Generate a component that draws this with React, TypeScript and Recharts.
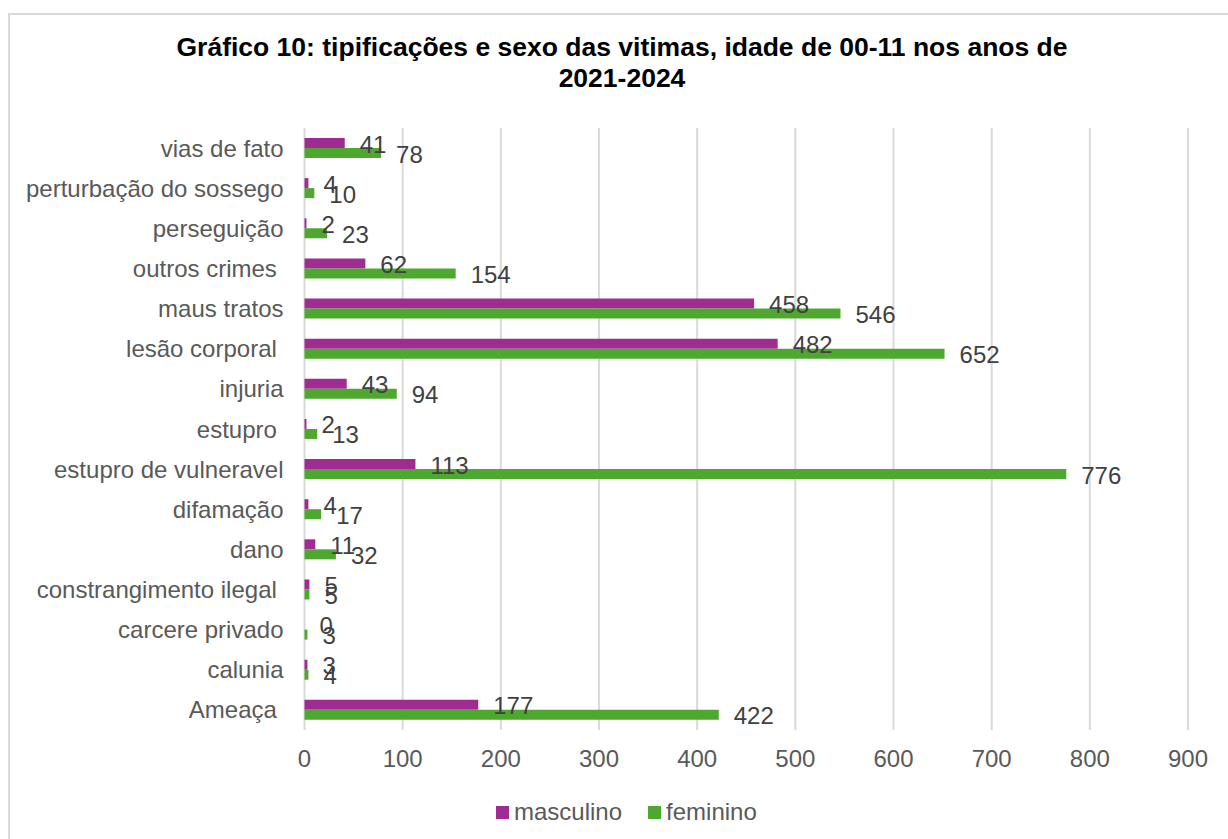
import { BarChart, Bar, XAxis, YAxis, CartesianGrid, LabelList } from 'recharts';

const categories = [
  'vias de fato',
  'perturbação do sossego',
  'perseguição',
  'outros crimes ',
  'maus tratos',
  'lesão corporal ',
  'injuria',
  'estupro ',
  'estupro de vulneravel',
  'difamação',
  'dano',
  'constrangimento ilegal ',
  'carcere privado',
  'calunia',
  'Ameaça ',
];
const masculino = [41, 4, 2, 62, 458, 482, 43, 2, 113, 4, 11, 5, 0, 3, 177];
const feminino = [78, 10, 23, 154, 546, 652, 94, 13, 776, 17, 32, 5, 3, 4, 422];
const xTicks = [0, 100, 200, 300, 400, 500, 600, 700, 800, 900];

const series = [
  { key: 'masculino', name: 'masculino', color: '#A02B93' },
  { key: 'feminino', name: 'feminino', color: '#4EA72E' },
];

const data = categories.map((name, i) => ({
  name,
  masculino: masculino[i],
  feminino: feminino[i],
}));

const FONT = '"Liberation Sans", Arial, sans-serif';
const FS = 24;

function CategoryTick(props: any) {
  const { x, y, payload } = props;
  return (
    <text
      x={x}
      y={y}
      textAnchor="end"
      dominantBaseline="central"
      fill="#595959"
      fontSize={FS}
      fontFamily={FONT}
      style={{ whiteSpace: 'pre' }}
    >
      {payload.value}
    </text>
  );
}

// value label to the right of each bar, drawn even when the bar has zero length
function ValueLabel(props: any) {
  const { x, y, width, height, value } = props;
  return (
    <text
      x={Number(x) + Number(width) + 15}
      y={Number(y) + Number(height) / 2 + 1}
      dominantBaseline="central"
      fill="#404040"
      fontSize={FS}
      fontFamily={FONT}
    >
      {value}
    </text>
  );
}

export default function App() {
  return (
    <div
      style={{
        position: 'absolute',
        left: 0,
        top: 0,
        width: 1228,
        height: 839,
        overflow: 'hidden',
        background: '#fff',
        fontFamily: FONT,
      }}
    >
      <div
        style={{
          position: 'absolute',
          left: 8,
          top: 13,
          width: 1260,
          height: 900,
          border: '2px solid #D9D9D9',
        }}
      />
      <div
        style={{
          position: 'absolute',
          left: 0,
          top: 32,
          width: 1244,
          textAlign: 'center',
          fontWeight: 'bold',
          fontSize: 26.5,
          lineHeight: '31px',
          color: '#000',
        }}
      >
        Gráfico 10: tipificações e sexo das vitimas, idade de 00-11 nos anos de
        <br />
        2021-2024
      </div>
      <div style={{ position: 'absolute', left: 0, top: 0 }}>
        <BarChart
          width={1228}
          height={839}
          data={data}
          layout="vertical"
          margin={{ top: 128, right: 40, bottom: 69, left: 0 }}
          barGap={0}
          barSize={10}
        >
          <CartesianGrid horizontal={false} stroke="#D9D9D9" strokeWidth={2} />
          <XAxis
            type="number"
            domain={[0, 900]}
            ticks={xTicks}
            height={40}
            axisLine={false}
            tickLine={false}
            tickSize={0}
            tickMargin={20}
            tick={{ fill: '#595959', fontSize: FS, fontFamily: FONT }}
            interval={0}
          />
          <YAxis
            type="category"
            dataKey="name"
            width={304.5}
            axisLine={false}
            tickLine={false}
            tickSize={0}
            tickMargin={21}
            interval={0}
            tick={<CategoryTick />}
          />
          {series.map((s) => (
            <Bar
              key={s.key}
              dataKey={s.key}
              name={s.name}
              fill={s.color}
              minPointSize={0.01}
              isAnimationActive={false}
            >
              <LabelList dataKey={s.key} content={<ValueLabel />} />
            </Bar>
          ))}
        </BarChart>
      </div>
      <div
        style={{
          position: 'absolute',
          left: 496,
          top: 797,
          display: 'flex',
          alignItems: 'center',
          fontSize: FS,
          lineHeight: '30px',
          color: '#595959',
        }}
      >
        {series.map((s, i) => (
          <div key={s.key} style={{ display: 'flex', alignItems: 'center', marginLeft: i ? 26 : 0 }}>
            <span style={{ width: 13, height: 13, background: s.color, marginRight: 5 }} />
            <span>{s.name}</span>
          </div>
        ))}
      </div>
    </div>
  );
}
